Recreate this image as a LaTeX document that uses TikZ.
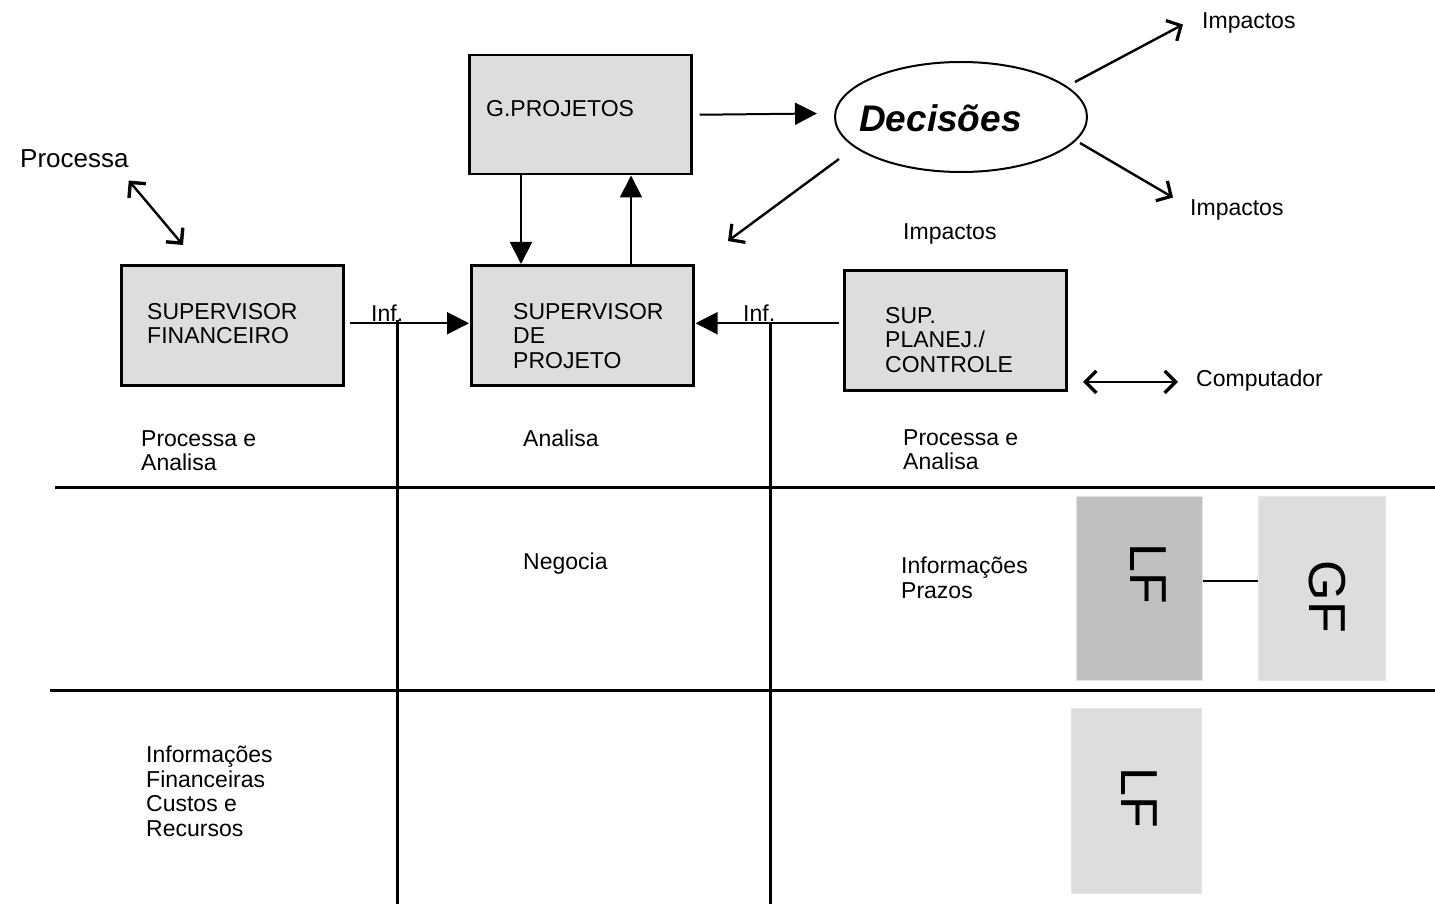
\documentclass[tikz,border=0pt]{standalone}
\usepackage{fontspec}
\setmainfont{Liberation Sans}
\usetikzlibrary{arrows.meta,shapes.geometric,calc}
\definecolor{boxgray}{HTML}{DDDDDD}
\definecolor{lfdark}{HTML}{C0C0C0}
\begin{document}
\begin{tikzpicture}[x=1pt,y=-1pt,
  box/.style={draw=black,line width=2.5pt,fill=boxgray,inner sep=0pt,anchor=north west},
  pale/.style={draw=black!10,line width=0.8pt,inner sep=0pt,anchor=north west},
  lbl/.style={anchor=north west,inner sep=0pt,align=left,font=\fontsize{23}{24.5}\selectfont},
  big/.style={inner sep=0pt,rotate=-90,font=\fontsize{52}{52}\selectfont},
  tri/.style={-{Triangle[length=22pt,width=22pt]},line width=2pt},
  barb/.style={-{Straight Barb[length=11pt,width=23pt,line width=3.2pt]},line width=2.4pt},
  dbarb/.style={{Straight Barb[length=11pt,width=22pt,line width=3.4pt]}-{Straight Barb[length=11pt,width=22pt,line width=3.4pt]},line width=2.4pt},
  grid/.style={line width=3pt}]
\useasboundingbox (0,0) rectangle (1435,904);

% boxes
\node[box,minimum width=222pt,minimum height=119pt] (gp) at (468,54) {};
\node[box,minimum width=222pt,minimum height=120pt] (sp) at (470,264) {};
\node[box,minimum width=222pt,minimum height=120pt] (fin) at (120,264) {};
\node[box,minimum width=222pt,minimum height=120pt] (pc) at (843,269) {};
\node[ellipse,draw=black,line width=2pt,minimum width=252pt,minimum height=110pt,inner sep=0pt] (dec) at (961,117) {};
\node[inner sep=0pt,anchor=base west,font=\fontsize{37}{37}\bfseries\itshape] (dect) at (859,132) {Decisões};

% box texts
\node[lbl] (gpt) at (486,100) {G.PROJETOS};
\node[lbl] (spt) at (513,303) {SUPERVISOR\\DE\\PROJETO};
\node[lbl] (fint) at (147,303) {SUPERVISOR\\FINANCEIRO};
\node[lbl] (pct) at (885,307) {SUP.\\PLANEJ./\\CONTROLE};

% free texts
\node[lbl,font=\fontsize{26}{28}\selectfont] (proc) at (20,149) {Processa};
\node[lbl] (imp1) at (1202,12) {Impactos};
\node[lbl] (imp2) at (1190,199) {Impactos};
\node[lbl] (imp3) at (903,223) {Impactos};
\node[lbl] (comp) at (1196,370) {Computador};
\node[lbl] (pa1) at (141,430) {Processa e\\Analisa};
\node[lbl] (an) at (523,430) {Analisa};
\node[lbl] (pa2) at (903,429) {Processa e\\Analisa};
\node[lbl] (neg) at (523,553) {Negocia};
\node[lbl] (ip) at (901,557) {Informações\\Prazos};
\node[lbl] (ifin) at (146,746) {Informações\\Financeiras\\Custos e\\Recursos};
\node[anchor=base west,inner sep=0pt,font=\fontsize{23}{24.5}\selectfont] (inf1) at (371,321) {Inf.};
\node[anchor=base west,inner sep=0pt,font=\fontsize{23}{24.5}\selectfont] (inf2) at (743,321) {Inf.};

% LF / GF
\node[pale,fill=lfdark,minimum width=126pt,minimum height=184pt] (lf1) at (1076,496) {};
\node[pale,fill=boxgray,minimum width=127pt,minimum height=184pt] (gf) at (1258,496) {};
\node[pale,fill=boxgray,minimum width=130pt,minimum height=185pt] (lf2) at (1071,708) {};
\node[big] (lf1t) at (1148,574) {LF};
\node[big] (gft) at (1327,597) {GF};
\node[big] (lf2t) at (1139,798) {LF};
\draw[line width=2pt] ($(lf1.east)+(0,-7)$) -- ($(gf.west)+(0,-7)$);

% grid lines
\coordinate (h1l) at (55,487); \coordinate (h1r) at (1435,487);
\coordinate (h2l) at (50,690); \coordinate (h2r) at (1435,690);
\coordinate (v1t) at (397,320); \coordinate (v1b) at (397,904);
\coordinate (v2t) at (770,323); \coordinate (v2b) at (770,904);
\draw[grid] (h1l) -- (h1r);
\draw[grid] (h2l) -- (h2r);
\draw[grid] (v1t) -- (v1b);
\draw[grid] (v2t) -- (v2b);

% connectors
\draw[tri] ($(fin.east)+(5,-2)$) -- ($(sp.west)+(-1,-2)$);
\draw[tri] ($(pc.west)+(-4,-7)$) -- ($(sp.east)+(1,-2)$);
\draw[tri] ($(gp.south west)+(53,0)$) -- ($(sp.north west)+(51,0)$);
\draw[tri] ($(sp.north west)+(161,0)$) -- ($(gp.south west)+(163,0)$);
\draw[tri] ($(gp.east)+(7,0)$) -- ($(dec.west)+(-17,-3.5)$);
\coordinate (decout) at (728,241);
\draw[barb] ($(dec.center)+(-122,42)$) -- (decout);
\draw[barb] ($(dec.center)+(114,-35)$) -- ($(imp1.west)+(-19,2)$);
\draw[barb] ($(dec.center)+(119,26)$) -- ($(imp2.west)+(-17,-12)$);
\coordinate (fintop) at (183,245);
\draw[dbarb] ($(proc.south east)+(0,13)$) -- (fintop);
\draw[dbarb] ($(comp.west)+(-113,1)$) -- ($(comp.west)+(-18,1)$);
\end{tikzpicture}
\end{document}
